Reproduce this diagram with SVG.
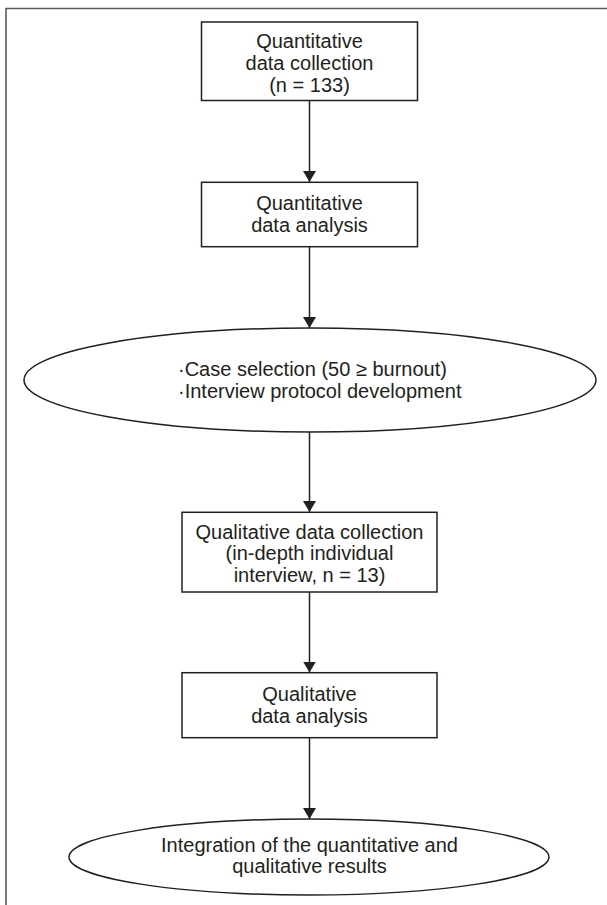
<svg xmlns="http://www.w3.org/2000/svg" width="607" height="905" viewBox="0 0 607 905">
<style>
.n{fill:#fff;stroke:#231f20;stroke-width:1.5}
.t{font-family:"Liberation Sans",Arial,sans-serif;font-size:20px;fill:#231f20;text-anchor:middle}
.l{text-anchor:start}
.c{stroke:#231f20;stroke-width:1.5;fill:none}
</style>
<defs>
<marker id="ah" viewBox="0 0 11 13" refX="11" refY="6.5" markerWidth="11" markerHeight="13" markerUnits="userSpaceOnUse" orient="auto">
<path d="M0,0 L11,6.5 L0,13 Z" fill="#231f20"/>
</marker>
</defs>
<rect width="607" height="905" fill="#fff"/>
<path d="M6,905 V8.5 H607" fill="none" stroke="#5a5a5a" stroke-width="1.6"/>
<g id="connectors">
<line class="c" x1="309.5" y1="100.5" x2="309.5" y2="182" marker-end="url(#ah)"/>
<line class="c" x1="309.5" y1="246.7" x2="309.5" y2="328" marker-end="url(#ah)"/>
<line class="c" x1="309.5" y1="432" x2="309.5" y2="512" marker-end="url(#ah)"/>
<line class="c" x1="309.5" y1="592" x2="309.5" y2="672.5" marker-end="url(#ah)"/>
<line class="c" x1="309.5" y1="737.7" x2="309.5" y2="819" marker-end="url(#ah)"/>
</g>
<g id="n1">
<rect class="n" x="201.5" y="22" width="216" height="78.5"/>
<text class="t" x="309.5" y="48.3">Quantitative</text>
<text class="t" x="309.5" y="70">data collection</text>
<text class="t" x="309.5" y="91.7">(n = 133)</text>
</g>
<g id="n2">
<rect class="n" x="201.5" y="182.3" width="216" height="64.4"/>
<text class="t" x="309.5" y="210.4">Quantitative</text>
<text class="t" x="309.5" y="232.1">data analysis</text>
</g>
<g id="n3">
<ellipse class="n" cx="310" cy="380" rx="286" ry="52"/>
<text class="t l" x="178" y="375.9">·Case selection (50 ≥ burnout)</text>
<text class="t l" x="178" y="397.6">·Interview protocol development</text>
</g>
<g id="n4">
<rect class="n" x="182" y="512.3" width="255" height="79.7"/>
<text class="t" x="309.5" y="538.6">Qualitative data collection</text>
<text class="t" x="309.5" y="560.3">(in-depth individual</text>
<text class="t" x="309.5" y="582">interview, n = 13)</text>
</g>
<g id="n5">
<rect class="n" x="182" y="672.7" width="255" height="65"/>
<text class="t" x="309.5" y="700.8">Qualitative</text>
<text class="t" x="309.5" y="722.5">data analysis</text>
</g>
<g id="n6">
<ellipse class="n" cx="309" cy="857" rx="240" ry="38"/>
<text class="t" x="309.5" y="851.7">Integration of the quantitative and</text>
<text class="t" x="309.5" y="873.4">qualitative results</text>
</g>
</svg>
